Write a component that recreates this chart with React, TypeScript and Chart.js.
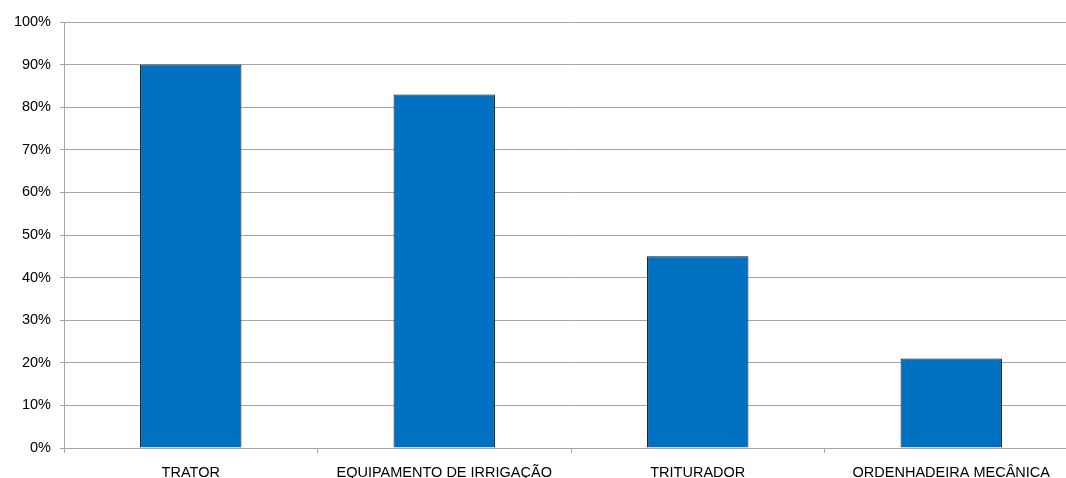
import React, { useEffect, useRef } from "react";
import { Chart, registerables } from "chart.js";

Chart.register(...registerables);

const categories = ["TRATOR", "EQUIPAMENTO DE IRRIGAÇÃO", "TRITURADOR", "ORDENHADEIRA MECÂNICA"];
const shares = [90, 83, 45, 21];
const yTicks = [0, 10, 20, 30, 40, 50, 60, 70, 80, 90, 100];

const GRID = "#a6a6a6";
const FONT = "'Liberation Sans', Arial, sans-serif";

export default function App() {
  const ref = useRef<HTMLCanvasElement | null>(null);

  useEffect(() => {
    if (!ref.current) return;
    const chart = new Chart(ref.current, {
      type: "bar",
      data: {
        labels: categories,
        datasets: [
          {
            data: shares,
            backgroundColor: "#0070c0",
            borderColor: "#111",
            borderWidth: 1,
            categoryPercentage: 0.4,
            barPercentage: 1,
          },
        ],
      },
      options: {
        responsive: false,
        animation: false,
        devicePixelRatio: 1,
        layout: { padding: { top: 22, right: 0, left: 0, bottom: 0 } },
        plugins: { legend: { display: false }, tooltip: { enabled: false } },
        scales: {
          x: {
            grid: {
              offset: true,
              drawOnChartArea: false,
              drawTicks: true,
              tickLength: 5,
              color: GRID,
            },
            border: { color: GRID },
            ticks: {
              color: "#000",
              font: { family: FONT, size: 14.5 },
              padding: 11,
              maxRotation: 0,
              autoSkip: false,
            },
            afterFit: (s: any) => {
              s.height = 30;
            },
          },
          y: {
            min: 0,
            max: 100,
            afterBuildTicks: (s: any) => {
              s.ticks = yTicks.map((v) => ({ value: v }));
            },
            grid: { color: GRID, tickLength: 4 },
            border: { color: GRID },
            ticks: {
              color: "#000",
              font: { family: FONT, size: 14.5 },
              padding: 9,
              callback: (v: any) => `${v}%`,
            },
            afterFit: (s: any) => {
              s.width = 64;
            },
          },
        },
      },
    });
    return () => chart.destroy();
  }, []);

  return (
    <div
      style={{
        position: "absolute",
        left: 0,
        top: 0,
        width: 1066,
        height: 478,
        overflow: "hidden",
        background: "#fff",
      }}
    >
      <canvas ref={ref} width={1078} height={478} style={{ display: "block" }} />
    </div>
  );
}
